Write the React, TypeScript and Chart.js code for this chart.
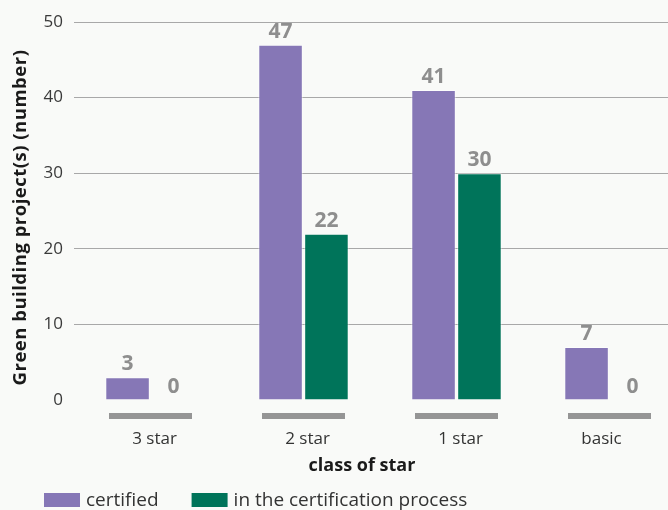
import React, { useEffect, useRef } from "react";
import { Chart, registerables } from "chart.js";

Chart.register(...registerables);

const categories = ["3 star", "2 star", "1 star", "basic"];
const certified = [3, 47, 41, 7];
const inProcess = [0, 22, 30, 0];
const seriesLabels = ["certified", "in the certification process"];
const yTicks = [0, 10, 20, 30, 40, 50];
const yTitle = "Green building project(s) (number)";
const xTitle = "class of star";

const PURPLE = "#8677b6";
const GREEN = "#00745a";
const FONT = "'Open Sans', 'DejaVu Sans', sans-serif";

const decorPlugin = {
  id: "decor",
  afterDatasetsDraw(chart: any) {
    const { ctx, chartArea } = chart;
    const xs = chart.scales.x;
    ctx.save();
    // gray axis segments under each category
    ctx.fillStyle = "#959595";
    const labelShift = [4, 4, 4, -8];
    categories.forEach((c, i) => {
      const cx = xs.getPixelForValue(i);
      ctx.fillRect(Math.round(cx - 41.5), chartArea.bottom + 13, 83, 6);
    });
    // category labels
    ctx.fillStyle = "#333";
    ctx.font = `17px ${FONT}`;
    ctx.textAlign = "center";
    ctx.textBaseline = "alphabetic";
    categories.forEach((c, i) => {
      const cx = xs.getPixelForValue(i);
      ctx.fillText(c, cx + labelShift[i], chartArea.bottom + 44);
    });
    // x title
    ctx.font = `bold 18px ${FONT}`;
    ctx.fillStyle = "#1a1a1a";
    ctx.fillText(xTitle, 362, chartArea.bottom + 71);
    // y title
    ctx.save();
    ctx.translate(26, 217.5);
    ctx.rotate(-Math.PI / 2);
    ctx.font = `bold 18.5px ${FONT}`;
    (ctx as any).letterSpacing = "0.5px";
    ctx.fillText(yTitle, 0, 0);
    ctx.restore();
    // data labels
    ctx.font = `bold 21px ${FONT}`;
    ctx.fillStyle = "#8e8e8e";
    chart.data.datasets.forEach((ds: any, di: number) => {
      const meta = chart.getDatasetMeta(di);
      meta.data.forEach((bar: any, j: number) => {
        ctx.fillText(String(ds.data[j]), bar.x, bar.y - 7);
      });
    });
    // legend
    let lx = 44;
    ctx.font = `19px ${FONT}`;
    ctx.textAlign = "left";
    chart.data.datasets.forEach((ds: any) => {
      ctx.fillStyle = ds.backgroundColor;
      ctx.fillRect(lx, 493, 36, 14);
      lx += 42;
      ctx.fillStyle = "#333";
      ctx.fillText(ds.label, lx, 506);
      lx += ctx.measureText(ds.label).width + 33;
    });
    ctx.restore();
  },
};

export default function App() {
  const ref = useRef<HTMLCanvasElement>(null);
  useEffect(() => {
    if (!ref.current) return;
    const chart = new Chart(ref.current, {
      type: "bar",
      data: {
        labels: categories,
        datasets: [
          {
            label: seriesLabels[0],
            data: certified,
            backgroundColor: PURPLE,
            borderColor: "rgba(255,255,255,0.5)",
            borderWidth: 1,
            categoryPercentage: 0.6,
            barPercentage: 0.97,
          },
          {
            label: seriesLabels[1],
            data: inProcess,
            backgroundColor: GREEN,
            borderColor: "rgba(255,255,255,0.5)",
            borderWidth: 1,
            categoryPercentage: 0.6,
            barPercentage: 0.97,
          },
        ],
      },
      options: {
        animation: false,
        responsive: true,
        maintainAspectRatio: false,
        layout: { padding: { top: 22, right: 14, left: 0, bottom: 0 } },
        plugins: {
          legend: { display: false },
          tooltip: { enabled: false },
        },
        scales: {
          x: {
            grid: { display: false, drawTicks: false },
            border: { display: false },
            ticks: { display: false },
            afterFit: (s: any) => {
              s.height = 110;
            },
          },
          y: {
            min: 0,
            max: 50,
            afterBuildTicks: (s: any) => {
              s.ticks = yTicks.map((v) => ({ value: v }));
            },
            grid: {
              drawTicks: false,
              color: (c: any) => (c.tick && c.tick.value === 0 ? "rgba(0,0,0,0)" : "#a8a8a8"),
            },
            border: { display: false },
            ticks: {
              padding: 11,
              color: "#3a3a3a",
              font: { family: FONT, size: 17 },
            },
            afterFit: (s: any) => {
              s.width = 74;
            },
          },
        },
      },
      plugins: [decorPlugin],
    });
    return () => chart.destroy();
  }, []);
  return (
    <div
      style={{
        position: "fixed",
        left: 0,
        top: 0,
        width: 668,
        height: 510,
        overflow: "hidden",
        background: "#f9faf8",
      }}
    >
      <div style={{ position: "relative", width: 700, height: 510 }}>
        <canvas ref={ref} />
      </div>
    </div>
  );
}
